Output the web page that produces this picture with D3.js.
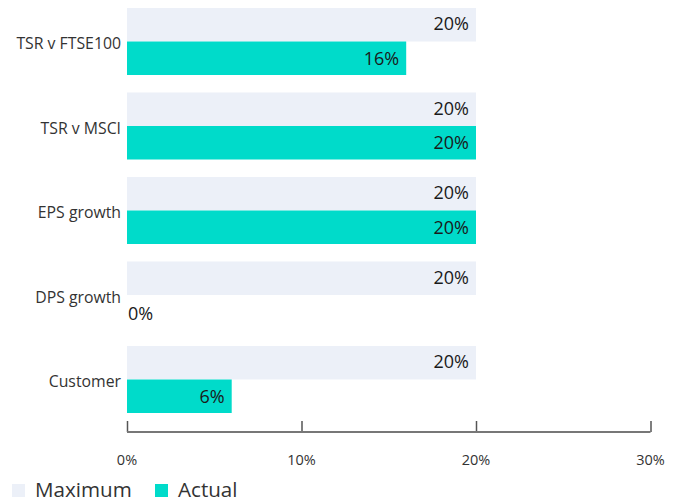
<!DOCTYPE html>
<html><head><meta charset="utf-8">
<script src="https://cdn.jsdelivr.net/npm/d3@7"></script>
<style>body{margin:0;background:#fff}svg{display:block}text{font-family:"Open Sans",Lato,sans-serif}</style>
</head><body>
<svg id="c" width="680" height="503"></svg>
<script>
const categories = ["TSR v FTSE100", "TSR v MSCI", "EPS growth", "DPS growth", "Customer"];
const maximum = [20, 20, 20, 20, 20];
const actual = [16, 20, 20, 0, 6];
const xTicks = [0, 10, 20, 30];
const seriesNames = ["Maximum", "Actual"];
const colors = ["#ECF0F8", "#00DBCA"];

const svg = d3.select("#c");
const x = d3.scaleLinear().domain([0, 30]).range([127, 650.5]);
const y = d3.scaleBand().domain(categories).range([8, 413]).paddingInner(0.207).paddingOuter(0);
const bh = y.bandwidth() / 2;

const g = svg.append("g");
categories.forEach((c, i) => {
  const y0 = y(c);
  g.append("rect").attr("x", x(0)).attr("y", y0).attr("width", x(maximum[i]) - x(0)).attr("height", bh).attr("fill", colors[0]);
  g.append("rect").attr("x", x(0)).attr("y", y0 + bh).attr("width", x(actual[i]) - x(0)).attr("height", bh).attr("fill", colors[1]);
  g.append("text").attr("x", x(maximum[i]) - 7).attr("y", y0 + bh / 2 - 1).attr("dy", "0.35em")
    .attr("text-anchor", "end").attr("font-size", 18).attr("fill", "#1a1a1a").text(maximum[i] + "%");
  const a = actual[i];
  g.append("text").attr("x", a === 0 ? x(0) + 1 : x(a) - 7).attr("y", y0 + bh * 1.5 + (a === 0 ? 2 : 0)).attr("dy", "0.35em")
    .attr("text-anchor", a === 0 ? "start" : "end").attr("font-size", 18).attr("fill", "#1a1a1a").text(a + "%");
  g.append("text").attr("x", 121).attr("y", y0 + bh + 2).attr("dy", "0.35em")
    .attr("text-anchor", "end").attr("font-size", 15.8).attr("fill", "#333").text(c);
});

const axis = svg.append("g").attr("transform", "translate(0,432)")
  .call(d3.axisTop(x).tickValues(xTicks).tickSize(11).tickFormat(d => ""));
axis.select(".domain").remove();
axis.selectAll(".tick line").attr("stroke", "#555").attr("stroke-width", 1.5);
svg.append("line").attr("x1", x(0)).attr("x2", x(30)).attr("y1", 432).attr("y2", 432).attr("stroke", "#777").attr("stroke-width", 2);
svg.append("g").selectAll("text").data(xTicks).join("text")
  .attr("x", d => x(d)).attr("y", 460).attr("dy", "0.35em").attr("text-anchor", "middle")
  .attr("font-size", 14.5).attr("fill", "#333").text(d => d + "%");

const leg = svg.append("g");
const lx = [12, 155];
seriesNames.forEach((s, i) => {
  leg.append("rect").attr("x", lx[i]).attr("y", 484).attr("width", 13).attr("height", 13).attr("fill", colors[i]);
  leg.append("text").attr("x", lx[i] + 23).attr("y", 490).attr("dy", "0.35em").attr("font-size", 20.6).attr("fill", "#333").text(s);
});
</script>
</body></html>
